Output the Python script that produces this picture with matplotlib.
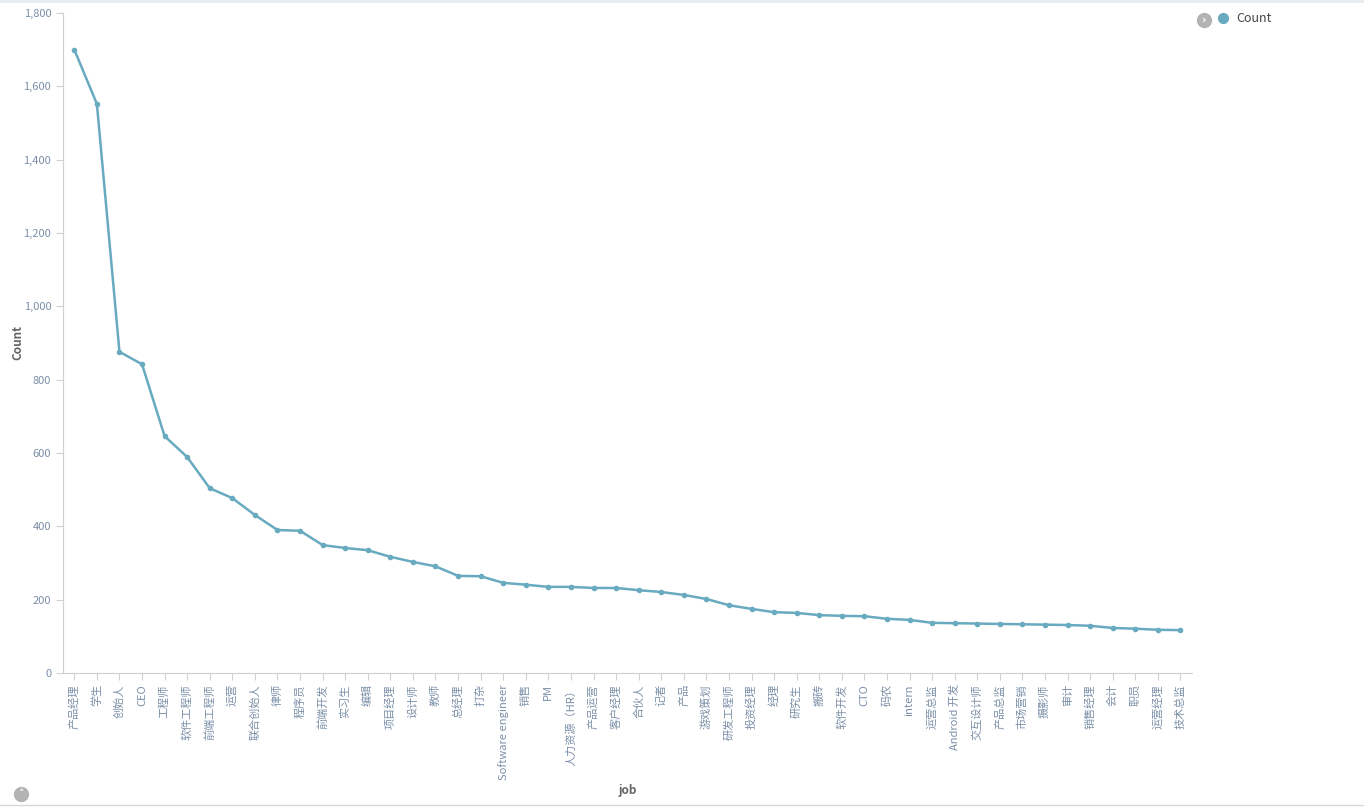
import matplotlib
matplotlib.use("Agg")
import matplotlib.pyplot as plt
from matplotlib.lines import Line2D
from matplotlib.ticker import FuncFormatter

plt.rcParams["font.family"] = ["Noto Sans CJK SC", "DejaVu Sans"]

jobs = [
    "产品经理", "学生", "创始人", "CEO", "工程师", "软件工程师", "前端工程师", "运营",
    "联合创始人", "律师", "程序员", "前端开发", "实习生", "编辑", "项目经理", "设计师",
    "教师", "总经理", "打杂", "Software engineer", "销售", "PM", "人力资源（HR）",
    "产品运营", "客户经理", "合伙人", "记者", "产品", "游戏策划", "研发工程师",
    "投资经理", "经理", "研究生", "搬砖", "软件开发", "CTO", "码农", "intern",
    "运营总监", "Android 开发", "交互设计师", "产品总监", "市场营销", "摄影师", "审计",
    "销售经理", "会计", "职员", "运营经理", "技术总监",
]
counts = [
    1700, 1552, 876, 842, 646, 589, 504, 477, 431, 390, 388, 349, 341, 335, 317, 303,
    291, 265, 264, 246, 241, 235, 235, 232, 232, 226, 221, 213, 202, 185,
    175, 166, 164, 158, 156, 155, 148, 145, 137, 136, 135, 134, 133, 132, 131,
    129, 123, 121, 118, 117,
]

LINE = "#68aabf"
AXIS = "#d0d0d0"
TICKTXT = "#7b8fa8"
W, H = 1364, 808

fig = plt.figure(figsize=(W / 100, H / 100), dpi=100)
ax = fig.add_axes([0.0462, 0.167, 0.8275, 0.817])

x = range(len(jobs))
ax.plot(x, counts, "-o", color=LINE, lw=1.8, ms=3)

ax.set_xlim(-0.5, len(jobs) - 0.5)
ax.set_ylim(0, 1800)
ax.set_yticks(range(0, 1801, 200))
ax.yaxis.set_major_formatter(FuncFormatter(lambda v, p: f"{int(v):,}"))
ax.set_xticks(list(x))
ax.set_xticklabels(jobs, rotation=90, va="top", ha="center")

for s in ("top", "right"):
    ax.spines[s].set_visible(False)
for s in ("left", "bottom"):
    ax.spines[s].set_color(AXIS)
ax.tick_params(axis="both", colors=AXIS, length=5, labelsize=8, labelcolor=TICKTXT)
ax.tick_params(axis="x", pad=3)

ax.set_ylabel("Count", fontsize=8.5, fontweight="bold", color="#666666")
ax.yaxis.set_label_coords(-0.034, 0.5)
fig.text(0.46, 0.017, "job", fontsize=8.5, fontweight="bold", color="#666666", ha="center")

handle = Line2D([], [], marker="o", ls="none", color=LINE, ms=7)
fig.legend([handle], ["Count"], loc="upper left", bbox_to_anchor=(0.879, 0.999),
           frameon=False, fontsize=9, handletextpad=0.1, labelcolor="#444444")

# little ui buttons (legend toggle, panel collapse)
for cx, cy, glyph in ((1204, 20, "›"), (21, 794, "˄")):
    fig.add_artist(Line2D([cx / W], [1 - cy / H], transform=fig.transFigure,
                          marker="o", ms=10, color="#b3b3b3", ls="none"))
    fig.text(cx / W, 1 - cy / H, glyph, color="white", fontsize=8, fontweight="bold",
             ha="center", va="center", family="DejaVu Sans")

# top band and bottom rule
fig.add_artist(plt.Rectangle((0, 0.996), 1, 0.004, transform=fig.transFigure,
                             color="#e8ecef", lw=0))
fig.add_artist(Line2D([0, 1], [0.004, 0.004], transform=fig.transFigure,
                      color="#d8d8d8", lw=1))

fig.savefig("out.png", dpi=100)
